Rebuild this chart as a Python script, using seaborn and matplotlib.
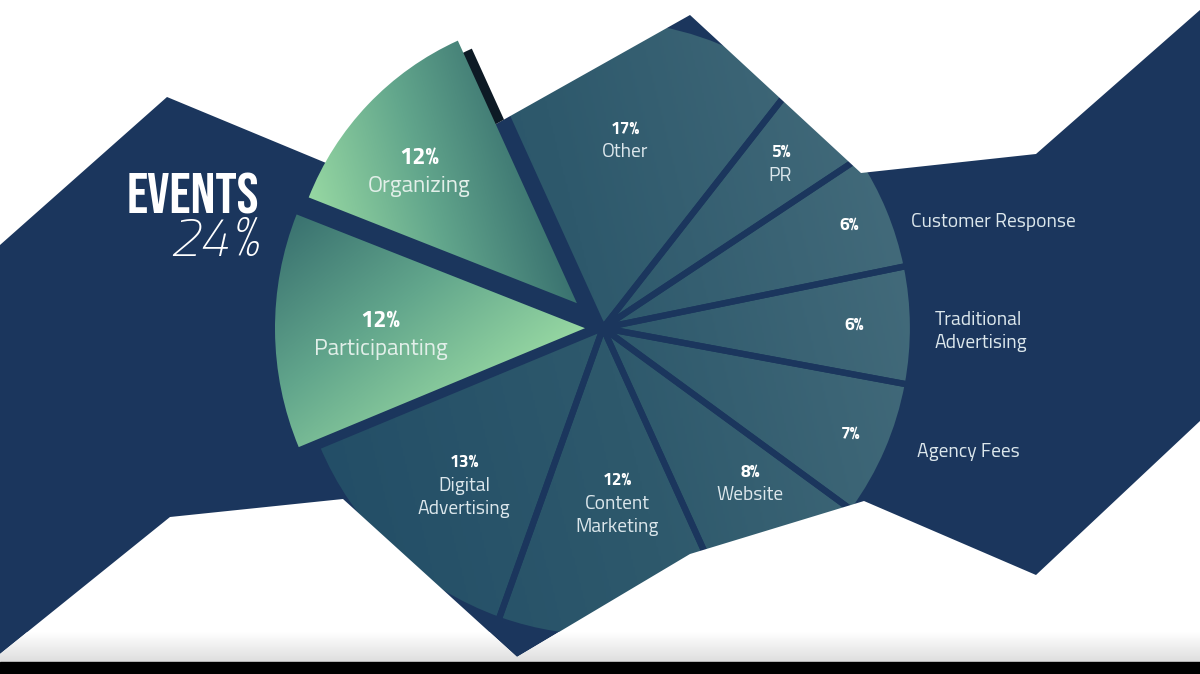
import numpy as np
import matplotlib
matplotlib.use("Agg")
import matplotlib.pyplot as plt
import seaborn as sns
from matplotlib.patches import Polygon, Wedge
from matplotlib.colors import LinearSegmentedColormap

# slices, counter-clockwise starting on the right-hand side
categories = ["Traditional\nAdvertising", "Customer Response", "PR", "Other",
              "Organizing", "Participanting", "Digital\nAdvertising",
              "Content\nMarketing", "Website", "Agency Fees"]
shares = [6, 6, 5, 17, 12, 12, 13, 12, 8, 7]
event_slices = ["Organizing", "Participanting"]
outside_names = ["Customer Response", "Traditional\nAdvertising", "Agency Fees"]
events_title = "EVENTS"
events_share = 24

# ---- layout / style -------------------------------------------------------
W, H = 1200, 674
NAVY = "#1b365d"
cx, cy, R = 603, H - 328, 310

# zig-zag band behind the pie (pixel coords, y measured from the top)
band_top = [(0, 245), (167, 97), (384, 187), (690, 15), (861, 173), (1036, 154), (1200, 10)]
band_bottom = [(0, 654), (170, 517), (343, 499), (517, 657), (690, 554),
               (864, 501), (1036, 575), (1200, 421)]

# pie explode is in data units (pixels here)
explode = [36 if c == "Organizing" else 18 if c == "Participanting" else 0 for c in categories]
label_frac = [0.81, 0.86, 0.78, 0.61, 0.71, 0.66, 0.65, 0.53, 0.69, 0.87]
label_nudge = [0, 0, 0, 0, 3.8, 1.5, 0, 2.5, 4.3, 0]   # degrees
outside_pos = {"Customer Response": (-3.5, 1.05),
               "Traditional\nAdvertising": (-1.2, 1.07),
               "Agency Fees": (1.8, 1.09)}

base_cmap = LinearSegmentedColormap.from_list("base", ["#234e67", "#2e596c", "#426a7a"])
green_cmap = LinearSegmentedColormap.from_list("green", ["#96d7a2", "#62a68c", "#3a7270"])
grey_cmap = LinearSegmentedColormap.from_list("grey", ["#ffffff", "#dedede"])

sns.set_theme(style="white")
LABEL_FONT = ["Titillium Web", "Roboto", "DejaVu Sans"]
plt.rcParams["font.family"] = LABEL_FONT

fig = plt.figure(figsize=(12, 6.74), dpi=100)
ax = fig.add_axes([0, 0, 1, 1])
ax.set_facecolor(NAVY)


def gradient(extent, direction, cmap, clip, z, lo, hi):
    x0, x1, y0, y1 = extent
    X, Y = np.meshgrid(np.linspace(x0, x1, 300), np.linspace(y0, y1, 300))
    g = direction[0] * X + direction[1] * Y
    g = np.clip((g - lo) / (hi - lo), 0, 1)
    im = ax.imshow(g, extent=extent, origin="lower", cmap=cmap, zorder=z,
                   interpolation="bilinear", aspect="auto", vmin=0, vmax=1)
    im.set_clip_path(clip)
    return im


wedges, _ = ax.pie(shares, explode=explode, startangle=-10.5, counterclock=True,
                   center=(cx, cy), radius=R, frame=True,
                   wedgeprops=dict(facecolor="none", edgecolor=NAVY, linewidth=4.5, zorder=3))

# white areas outside the band
top_mask = Polygon([(x, H - y) for x, y in band_top] + [(W, H), (0, H)], closed=True,
                   facecolor="white", edgecolor="none", zorder=5)
bottom_mask = Polygon([(x, H - y) for x, y in band_bottom] + [(W, 0), (0, 0)], closed=True,
                      facecolor="white", edgecolor="none", zorder=5)
ax.add_patch(top_mask)
ax.add_patch(bottom_mask)
gradient((0, W, 12, 42), (0, -1), grey_cmap, bottom_mask, 5.5, -42, -12)

base_dir = np.array([1.0, 0.25])
c0 = base_dir @ np.array([cx, cy])
span = np.linalg.norm(base_dir) * R
for w, cat in zip(wedges, categories):
    if cat in event_slices:
        w.set_edgecolor("none")
        w.set_linewidth(0)
        w.set_zorder(7)
        if cat == "Organizing":
            w.set_radius(w.r * 0.93)
            d = np.array([1.0, 0.3])
            # drop shadow, only visible on the white background
            sh = Wedge((w.center[0] + 14, w.center[1] - 8), w.r, w.theta1, w.theta2,
                       facecolor="#0d1a25", edgecolor="none", zorder=6)
            ax.add_patch(sh)
            sh.set_clip_path(top_mask)
        else:
            d = np.array([-1.0, 1.3])
        v = w.get_path().vertices
        gv = v @ d
        ext = (w.center[0] - w.r, w.center[0] + w.r, w.center[1] - w.r, w.center[1] + w.r)
        gradient(ext, d, green_cmap, w, 6.8, gv.min(), gv.max())
    else:
        gradient((cx - R, cx + R, cy - R, cy + R), base_dir, base_cmap, w, 2,
                 c0 - span, c0 + span)

# labels
for w, cat, v, frac, nud in zip(wedges, categories, shares, label_frac, label_nudge):
    mid = np.deg2rad((w.theta1 + w.theta2) / 2)
    a_lab = mid + np.deg2rad(nud)
    px = w.center[0] + frac * w.r * np.cos(a_lab)
    py = w.center[1] + frac * w.r * np.sin(a_lab)
    big = cat in event_slices
    if cat in outside_names:
        ax.text(px, py, f"{v}%", ha="center", va="center", fontsize=12.5,
                fontweight="bold", color="white", zorder=8)
        da, rf = outside_pos[cat]
        a = mid + np.deg2rad(da)
        ax.text(cx + rf * R * np.cos(a), cy + rf * R * np.sin(a), cat, ha="left",
                va="center", fontsize=14, color="#dce7ec", linespacing=1.35, zorder=8)
    else:
        gap = 3
        ax.text(px, py + gap, f"{v}%", ha="center", va="bottom",
                fontsize=17 if big else 12.5, fontweight="bold", color="white", zorder=8)
        ax.text(px, py - gap, cat, ha="center", va="top", fontsize=16.5 if big else 14,
                color="#e2efe9" if big else "#dce7ec", linespacing=1.35, zorder=8)

ax.text(259, H - 193, events_title, ha="right", va="center", fontsize=42,
        color="white", zorder=8,
        family=["Bebas Neue", "Oswald", "Barlow Condensed", "DejaVu Sans"])
ax.text(259, H - 243, f"{events_share}%", ha="right", va="center", fontsize=39,
        fontstyle="italic", fontweight=250, color="white", zorder=8,
        family=["Titillium Web", "Lato", "DejaVu Sans"])

ax.axhspan(0, 12, color="black", zorder=10)

ax.set_xlim(0, W)
ax.set_ylim(0, H)
ax.set_aspect("auto")
ax.set_xticks([])
ax.set_yticks([])
for s in ax.spines.values():
    s.set_visible(False)

fig.savefig("out.png", dpi=100)
